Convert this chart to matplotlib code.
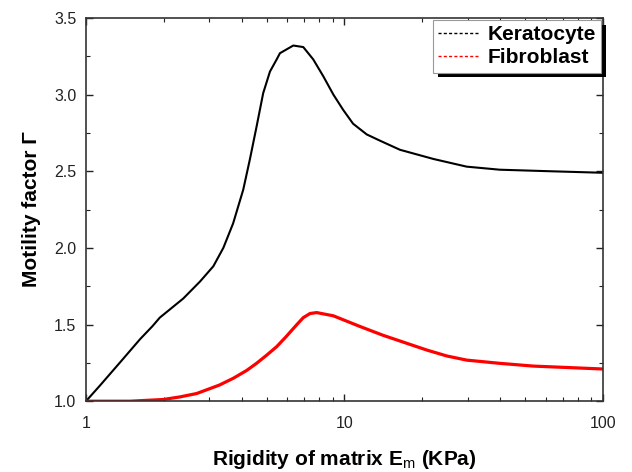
import matplotlib
matplotlib.use("Agg")
import matplotlib.pyplot as plt
from matplotlib.lines import Line2D
from matplotlib.ticker import MultipleLocator, FixedLocator, FixedFormatter
import matplotlib.patheffects as pe

plt.rcParams['font.family'] = ['Liberation Sans', 'DejaVu Sans']
plt.rcParams['mathtext.fontset'] = 'custom'
plt.rcParams['mathtext.rm'] = 'Liberation Sans'
plt.rcParams['mathtext.bf'] = 'Liberation Sans:bold'

# values
kera_x = [1.0, 1.13, 1.35, 1.62, 1.81, 1.93, 2.38, 2.76, 3.11, 3.40, 3.71,
          4.06, 4.31, 4.57, 4.85, 5.15, 5.47, 5.63, 6.34, 6.93, 7.57, 8.28,
          9.06, 9.89, 10.8, 12.2, 13.7, 16.4, 22.1, 29.7, 39.9, 62.4, 100.0]
kera_y = [1.00, 1.10, 1.25, 1.405, 1.49, 1.545, 1.67, 1.78, 1.88, 2.00, 2.16,
          2.38, 2.58, 2.79, 3.01, 3.15, 3.23, 3.27, 3.32, 3.31, 3.23, 3.12,
          3.00, 2.90, 2.81, 2.74, 2.70, 2.64, 2.58, 2.53, 2.51, 2.50, 2.49]

fibro_x = [1.0, 1.48, 1.99, 2.31, 2.68, 3.28, 3.71, 4.18, 4.57, 5.0, 5.47,
           5.94, 6.53, 6.93, 7.36, 7.81, 9.06, 9.6, 11.5, 14.1, 17.4, 20.8,
           24.9, 29.7, 39.9, 53.8, 72.3, 100.0]
fibro_y = [1.0, 1.0, 1.011, 1.028, 1.05, 1.105, 1.149, 1.20, 1.247, 1.30, 1.356,
           1.42, 1.498, 1.545, 1.572, 1.578, 1.557, 1.54, 1.487, 1.43, 1.378, 1.334,
           1.295, 1.268, 1.247, 1.229, 1.22, 1.21]

labels = ["Keratocyte", "Fibroblast"]
colors = ["black", "#ff0000"]

fig = plt.figure(figsize=(6.32, 4.72), dpi=100)
ax = fig.add_axes([0.136, 0.150, 0.818, 0.812])

ax.plot(kera_x, kera_y, color=colors[0], lw=1.5)
ax.plot(fibro_x, fibro_y, color=colors[1], lw=2.3)

ax.set_xscale('log')
ax.set_xlim(1, 100)
ax.set_ylim(1.0, 3.5)
ax.xaxis.set_major_locator(FixedLocator([1, 10, 100]))
ax.xaxis.set_major_formatter(FixedFormatter(["1", "10", "100"]))
ax.yaxis.set_major_locator(MultipleLocator(0.5))
ax.yaxis.set_minor_locator(MultipleLocator(0.25))
ax.yaxis.set_major_formatter(plt.FormatStrFormatter('%.1f'))

ax.tick_params(which='both', direction='in', top=True, right=True,
               labelsize=11.5, colors='#222222')
ax.tick_params(which='major', length=5, width=1)
ax.tick_params(which='minor', length=3, width=0.8)
ax.tick_params(axis='x', which='major', pad=11)
ax.tick_params(axis='y', which='major', pad=7)
for s in ax.spines.values():
    s.set_linewidth(1.2)
    s.set_color('#333333')

ax.set_xlabel(r"Rigidity of matrix E$_{\mathrm{m}}$ (KPa)", fontsize=15,
              fontweight='bold', labelpad=12)
ax.set_ylabel("Motility factor Γ", fontsize=15, fontweight='bold', labelpad=9)

handles = [Line2D([], [], color=c, lw=1, linestyle=(0, (2.2, 1.6))) for c in colors]
leg = ax.legend(handles, labels, loc='upper right',
                prop={'weight': 'bold', 'size': 15}, frameon=True, fancybox=False,
                framealpha=1.0, borderaxespad=0.1, handlelength=1.95,
                handletextpad=0.4, labelspacing=0.2, borderpad=0.25)
leg.get_frame().set_edgecolor('#999999')
leg.get_frame().set_linewidth(0.8)
leg.get_frame().set_path_effects([pe.SimplePatchShadow(offset=(3.5, -3.5), shadow_rgbFace='black', alpha=1.0),
                                  pe.Normal()])

fig.savefig("out.png", dpi=100)
